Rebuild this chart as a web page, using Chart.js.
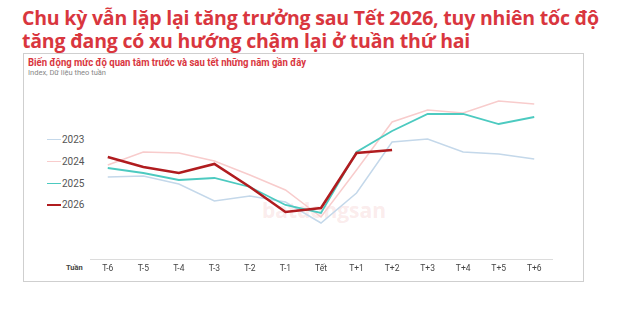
<!DOCTYPE html>
<html>
<head>
<meta charset="utf-8">
<script src="https://cdn.jsdelivr.net/npm/chart.js@4"></script>
<style>
  body { margin: 0; background: #fff; width: 620px; height: 324px; position: relative; overflow: hidden; }
  .title { position: absolute; left: 22px; top: 7px; font: bold 19.5px "Open Sans", sans-serif; line-height: 22.5px; color: #d9363e; letter-spacing: -0.2px; }
  .box { position: absolute; left: 23px; top: 53px; width: 559px; height: 227px; border: 1px solid #cfcfcf; }
  .sub { position: absolute; left: 28px; top: 55px; font: bold 11.5px Roboto, sans-serif; color: #d9363e; transform: scaleX(0.83); transform-origin: left top; white-space: nowrap; }
  .note { position: absolute; left: 28px; top: 68px; font: 7.5px Roboto, sans-serif; color: #888; }
  .legend { position: absolute; left: 47px; top: 129px; font: 10px Roboto, sans-serif; color: #555; }
  .legend div { height: 21.7px; display: flex; align-items: center; }
  .legend span.sw { display: inline-block; width: 14px; margin-right: 1px; }
  .tuan { position: absolute; left: 66px; top: 263px; font: bold 7.5px Roboto, sans-serif; color: #444; }
  .wm { position: absolute; left: 262px; top: 196px; font: bold 21px "Open Sans", sans-serif; color: rgba(230,140,140,0.18); }
  canvas { position: absolute; left: 0; top: 0; }
</style>
</head>
<body>
<div class="title">Chu kỳ vẫn lặp lại tăng trưởng sau Tết 2026, tuy nhiên tốc độ<br>tăng đang có xu hướng chậm lại ở tuần thứ hai</div>
<div class="box"></div>
<div class="sub">Biến động mức độ quan tâm trước và sau tết những năm gần đây</div>
<div class="note">Index, Dữ liệu theo tuần</div>
<div class="wm">batdongsan</div>
<div class="legend" id="legend"></div>
<div class="tuan">Tuần</div>
<canvas id="chart" width="620" height="324"></canvas>
<script>
const weeks = ['T-6', 'T-5', 'T-4', 'T-3', 'T-2', 'T-1', 'Tết', 'T+1', 'T+2', 'T+3', 'T+4', 'T+5', 'T+6'];
const years = ['2023', '2024', '2025', '2026'];
const v2023 = [82, 83, 75, 58, 63, 57, 36, 66, 117, 120, 107, 105, 100];
const v2024 = [94, 107, 106, 98, 84, 69, 42, 89, 137, 149, 146, 158, 155];
const v2025 = [91, 86, 79, 81, 72, 54, 46, 107, 128, 145, 145, 135, 142];
const v2026 = [102, 92, 86, 95, 72, 47, 51, 106, 109];

const colors = ['#c4d8ea', '#f8cccc', '#4ccac0', '#b01c1f'];
const widths = [1.5, 1.5, 1.8, 2.6];
const series = [v2023, v2024, v2025, v2026];

// legend (html)
const lg = document.getElementById('legend');
years.forEach((y, i) => {
  const d = document.createElement('div');
  d.innerHTML = '<span class="sw" style="border-top:' + widths[i] + 'px solid ' + colors[i] + '"></span>' + y;
  lg.appendChild(d);
});

const ctx = document.getElementById('chart').getContext('2d');
new Chart(ctx, {
  type: 'line',
  data: {
    labels: weeks,
    datasets: years.map((y, i) => ({
      label: y,
      data: series[i],
      borderColor: colors[i],
      borderWidth: widths[i],
      pointRadius: 0,
      tension: 0,
      order: 4 - i
    }))
  },
  options: {
    responsive: false,
    animation: false,
    layout: { padding: { left: 90, right: 68, top: 89, bottom: 45 } },
    plugins: { legend: { display: false }, tooltip: { enabled: false } },
    scales: {
      x: {
        offset: true,
        grid: { display: false, drawTicks: false },
        border: { display: true, color: '#dcdcdc', width: 1 },
        ticks: { color: '#444', font: { family: 'Roboto', size: 8.5 }, padding: 5, maxRotation: 0 },
        afterFit: s => { s.height = 20; }
      },
      y: { display: false, min: 0, max: 170 }
    }
  }
});
</script>
</body>
</html>
